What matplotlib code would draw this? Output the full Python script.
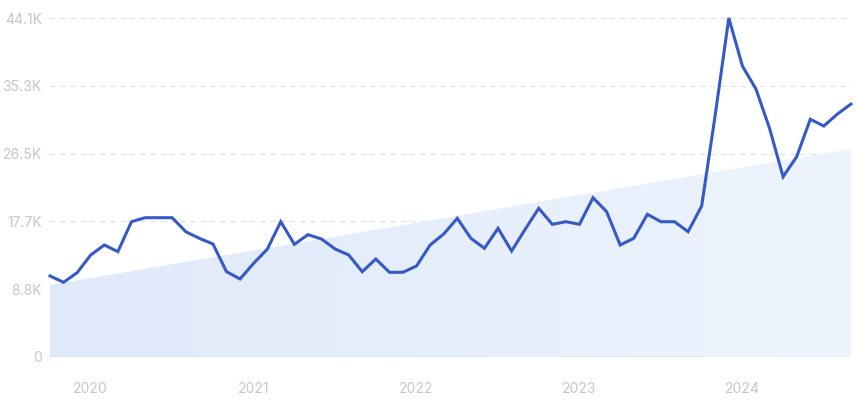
import numpy as np
import matplotlib.pyplot as plt
from matplotlib.patches import Polygon

# Monthly values, Oct 2019 .. Sep 2024
values = [10540, 9720, 10970, 13270, 14570, 13700, 17600, 18120, 18120, 18120,
          16300, 15440, 14700, 11100, 10150, 12190, 14010, 17600, 14660, 15910,
          15350, 14050, 13270, 11100, 12750, 11020, 11020, 11840, 14570, 16000,
          18040, 15440, 14140, 16740, 13790, 16610, 19340, 17260, 17600, 17260,
          20720, 18900, 14570, 15440, 18560, 17600, 17600, 16300, 19640, 31500,
          44100, 37860, 34860, 29750, 23450, 26060, 30920, 30050, 31610, 32910]
trend_start = 9370
trend_end = 27060
year_labels = ["2020", "2021", "2022", "2023", "2024"]
year_pos = [3, 15, 27, 39, 51]
y_ticks = [0, 8820, 17650, 26470, 35290, 44100]
y_labels = ["0", "8.8K", "17.7K", "26.5K", "35.3K", "44.1K"]

plt.rcParams['font.family'] = ['Inter', 'DejaVu Sans']

fig = plt.figure(figsize=(8.57, 4), dpi=100)
ax = fig.add_axes([50/857, 43/400, 801/857, 339/400])

x = np.arange(len(values))
n = len(values) - 1

# trend area with a soft gradient
grad = np.linspace(0, 1, 256).reshape(1, -1)
img = ax.imshow(grad, extent=[0, n, 0, 44100], aspect='auto', origin='lower',
                cmap=plt.matplotlib.colors.LinearSegmentedColormap.from_list(
                    'g', ['#dfe9fa', '#edf4fd']), zorder=1)
poly = Polygon([[0, 0], [0, trend_start], [n, trend_end], [n, 0]],
               closed=True, facecolor='none', edgecolor='none')
ax.add_patch(poly)
img.set_clip_path(poly)

ax.plot(x, values, color='#3759c8', lw=2.2, zorder=3, clip_on=False,
        solid_joinstyle='miter')

ax.set_xlim(0, n)
ax.set_ylim(0, 44100)
ax.set_yticks(y_ticks)
ax.set_yticklabels(y_labels)
ax.set_xticks(year_pos)
ax.set_xticklabels(year_labels)

for t in y_ticks[1:]:
    ax.axhline(t, color='#dde3ea', lw=0.9, ls=(0, (4, 4)), zorder=0)
ax.axhline(0, color='#dce6f5', lw=1.0, zorder=2)

for s in ax.spines.values():
    s.set_visible(False)
ax.tick_params(length=0, colors='#c4c6cc', labelsize=10)
ax.tick_params(axis='y', pad=6)
ax.tick_params(axis='x', pad=18)

fig.savefig('out.png', dpi=100)
